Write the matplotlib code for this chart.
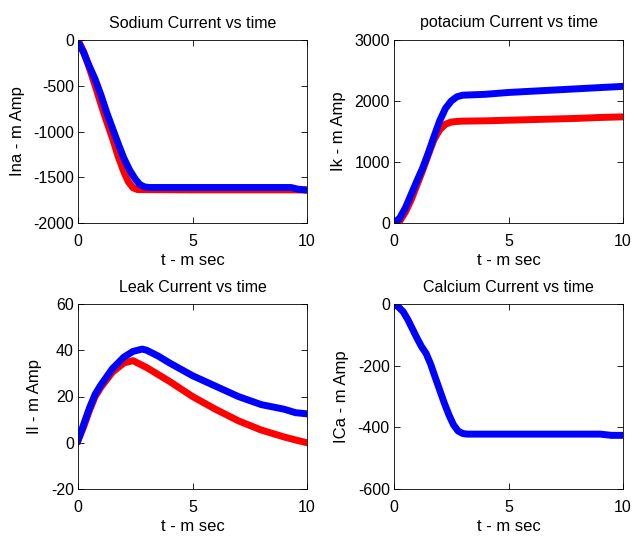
import matplotlib.pyplot as plt

plt.rcParams["font.family"] = ["Liberation Sans", "DejaVu Sans"]
plt.rcParams["axes.unicode_minus"] = False

# sodium current (mA) vs time (ms)
t_na_red = [0, 0.25, 0.5, 0.75, 1.0, 1.25, 1.5, 1.75, 2.0, 2.2, 2.4, 2.6, 5, 9.3, 10]
na_red = [0, -130, -310, -500, -700, -890, -1070, -1270, -1440, -1550, -1615, -1635, -1638, -1638, -1640]
t_na_blue = [0, 0.25, 0.5, 0.75, 1.0, 1.25, 1.5, 1.75, 2.0, 2.25, 2.5, 2.7, 2.9, 3.1, 5, 9.3, 9.6, 10]
na_blue = [-20, -140, -290, -430, -600, -790, -960, -1130, -1290, -1420, -1520, -1580, -1605, -1612,
           -1612, -1612, -1630, -1640]

# potassium current
t_k = [0, 0.25, 0.5, 0.75, 1.0, 1.25, 1.5, 1.75, 2.0, 2.25, 2.5, 2.75, 3.0, 4, 5, 6, 7, 8, 9, 10]
k_red = [0, 30, 180, 380, 620, 860, 1120, 1370, 1530, 1620, 1655, 1665, 1670, 1675, 1685, 1695,
         1705, 1715, 1730, 1740]
k_blue = [0, 80, 250, 470, 690, 900, 1150, 1420, 1680, 1880, 2000, 2070, 2095, 2110, 2140, 2160,
          2180, 2200, 2220, 2240]

# leak current
t_l = [0, 0.25, 0.5, 0.75, 1.0, 1.5, 2.0, 2.4, 2.8, 3.0, 3.5, 4, 5, 6, 7, 8, 9, 9.5, 10]
l_red = [1, 7, 14, 20, 24, 30.5, 34.5, 35.5, 33.5, 32.5, 29.5, 26.5, 20, 14.5, 9.5, 5.5, 2.5, 1.2, 0]
l_blue = [1, 8, 15, 21, 25, 32, 37, 39.5, 40.5, 40, 37.5, 34.5, 29, 24.5, 20, 16.5, 14.5, 13, 12.5]

# calcium current
t_ca = [0, 0.2, 0.4, 0.6, 0.8, 1.0, 1.2, 1.4, 1.6, 1.8, 2.0, 2.2, 2.4, 2.6, 2.8, 3.0, 3.2,
        5, 9, 9.5, 10]
ca_blue = [0, -10, -25, -50, -80, -110, -138, -160, -195, -238, -280, -322, -360, -392, -412,
           -420, -422, -422, -422, -426, -426]

titles = ["Sodium Current vs time", "potacium Current vs time",
          "Leak Current vs time", "Calcium Current vs time"]
ylabels = ["Ina - m Amp", "Ik - m Amp", "Il - m Amp", "ICa - m Amp"]
ylims = [(-2000, 0), (0, 3000), (-20, 60), (-600, 0)]
yticks = [[-2000, -1500, -1000, -500, 0], [0, 1000, 2000, 3000],
          [-20, 0, 20, 40, 60], [-600, -400, -200, 0]]

fig = plt.figure(figsize=(6.33, 5.39), dpi=100)
W, H = 633, 539
boxes = [(78, 40, 307, 223), (394, 40, 623, 223),
         (78, 304, 307, 489), (394, 304, 623, 489)]
axes = []
for (x0, y0, x1, y1) in boxes:
    axes.append(fig.add_axes([x0 / W, 1 - y1 / H, (x1 - x0) / W, (y1 - y0) / H]))

LW = 5
axes[0].plot(t_na_red, na_red, color="red", lw=LW)
axes[0].plot(t_na_blue, na_blue, color="blue", lw=LW)
axes[1].plot(t_k, k_red, color="red", lw=LW)
axes[1].plot(t_k, k_blue, color="blue", lw=LW)
axes[2].plot(t_l, l_red, color="red", lw=LW)
axes[2].plot(t_l, l_blue, color="blue", lw=LW)
axes[3].plot(t_ca, ca_blue, color="blue", lw=LW)

for i, ax in enumerate(axes):
    ax.set_xlim(0, 10)
    ax.set_ylim(*ylims[i])
    ax.set_xticks([0, 5, 10])
    ax.set_yticks(yticks[i])
    ax.tick_params(direction="in", top=True, right=True, labelsize=11.5,
                   length=4, width=0.6)
    ax.tick_params(axis="x", pad=8)
    ax.tick_params(axis="y", pad=3)
    ax.set_title(titles[i], fontsize=11.5, pad=9)
    ax.set_xlabel("t - m sec", fontsize=12, labelpad=3)
    ax.set_ylabel(ylabels[i], fontsize=12, labelpad=6)
    for s in ax.spines.values():
        s.set_linewidth(0.6)

fig.savefig("out.png", dpi=100)
